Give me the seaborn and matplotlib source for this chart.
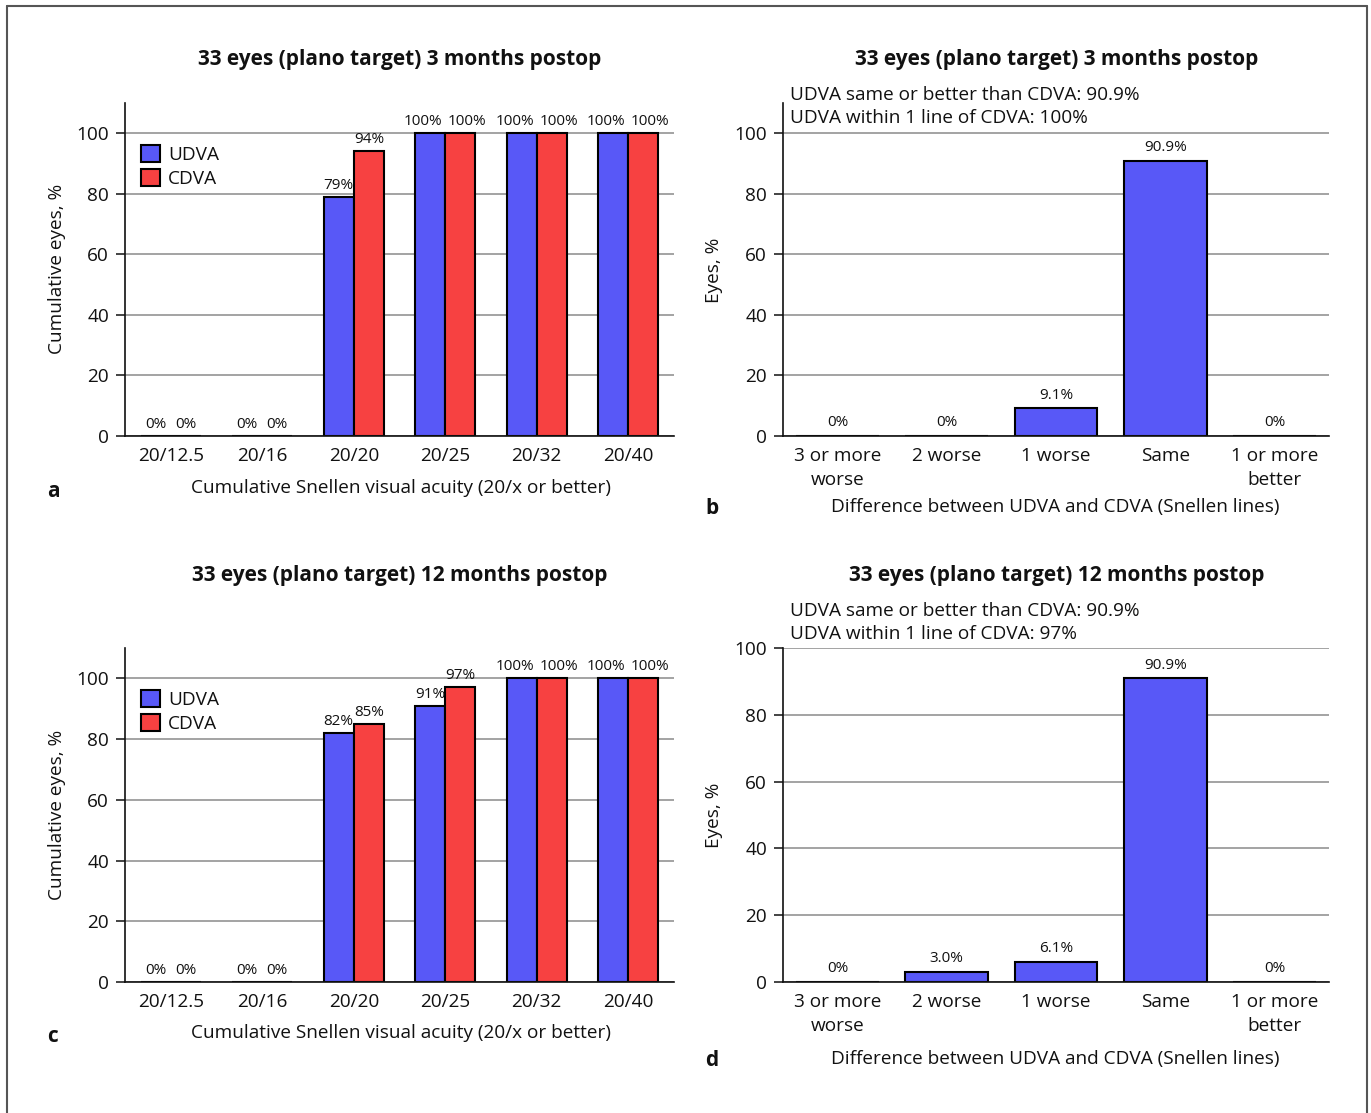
import numpy as np
import pandas as pd
import matplotlib
matplotlib.use("Agg")
import matplotlib.pyplot as plt
from matplotlib.lines import Line2D
import seaborn as sns

# ---- data -------------------------------------------------------------
acuity = ["20/12.5", "20/16", "20/20", "20/25", "20/32", "20/40"]
udva_3m = [0, 0, 79, 100, 100, 100]
cdva_3m = [0, 0, 94, 100, 100, 100]
udva_12m = [0, 0, 82, 91, 100, 100]
cdva_12m = [0, 0, 85, 97, 100, 100]

diff_cats = ["3 or more\nworse", "2 worse", "1 worse", "Same", "1 or more\nbetter"]
diff_3m = [0, 0, 9.1, 90.9, 0]
diff_12m = [0, 3.0, 6.1, 90.9, 0]

title_3m = "33 eyes (plano target) 3 months postop"
title_12m = "33 eyes (plano target) 12 months postop"
notes_3m = ["UDVA same or better than CDVA: 90.9%", "UDVA within 1 line of CDVA: 100%"]
notes_12m = ["UDVA same or better than CDVA: 90.9%", "UDVA within 1 line of CDVA: 97%"]

BLUE = "#5858F7"
RED = "#F74141"
GRID = "#a3a3a3"
FS = 13.7        # general text size
FS_BAR = 11      # value labels above bars

sns.set_style("white")
plt.rcParams["font.family"] = ["Open Sans", "DejaVu Sans"]
plt.rcParams["text.color"] = "#111111"
plt.rcParams["axes.labelcolor"] = "#111111"
plt.rcParams["xtick.color"] = "#111111"
plt.rcParams["ytick.color"] = "#111111"

W, H = 1371, 1113
fig = plt.figure(figsize=(W / 100, H / 100), dpi=100)


def px(x, y):
    return x / W, 1 - y / H


def add_axes(x0, x1, ytop, ybot):
    l, t = px(x0, ytop)
    r, b = px(x1, ybot)
    return fig.add_axes([l, b, r - l, t - b])


def style_axes(ax, ncat, ymax):
    ax.set_xlim(-0.5, ncat - 0.5)
    ax.set_ylim(0, ymax)
    ax.set_yticks([0, 20, 40, 60, 80, 100])
    ax.yaxis.grid(True, color=GRID, lw=1.4)
    ax.xaxis.grid(False)
    ax.set_axisbelow(True)
    for s in ["top", "right"]:
        ax.spines[s].set_visible(False)
    for s in ["left", "bottom"]:
        ax.spines[s].set_color("#111111")
        ax.spines[s].set_linewidth(1.2)
    ax.set_xticks(np.arange(-0.5, ncat, 1), minor=True)
    ax.tick_params(axis="x", which="major", length=0, pad=8, labelsize=FS)
    ax.tick_params(axis="x", which="minor", length=7, width=1.1, direction="out")
    ax.tick_params(axis="y", which="major", length=6.5, width=1.1, direction="out",
                   left=True, pad=5, labelsize=FS)
    ax.set_xlabel("")
    ax.set_ylabel("")


def cumulative_panel(ax, udva, cdva):
    df = pd.DataFrame({
        "acuity": acuity * 2,
        "pct": udva + cdva,
        "measure": ["UDVA"] * len(acuity) + ["CDVA"] * len(acuity),
    })
    sns.barplot(data=df, x="acuity", y="pct", hue="measure", order=acuity,
                hue_order=["UDVA", "CDVA"], palette=[BLUE, RED], saturation=1,
                width=0.66, edgecolor="black", linewidth=1.5, errorbar=None, ax=ax)
    # wide "100%" labels on neighbouring bars are nudged apart
    for cont, nudge in zip(ax.containers, (-5, 5)):
        texts = ax.bar_label(cont, fmt="{:.0f}%", padding=3, fontsize=FS_BAR)
        for t in texts:
            if len(t.get_text()) >= 4:
                t.xyann = (nudge, 3)
    style_axes(ax, len(acuity), 110)
    ax.legend(loc="upper left", bbox_to_anchor=(0.03, 0.875), frameon=False,
              handlelength=0.95, handleheight=1.0, handletextpad=0.45,
              labelspacing=0.28, fontsize=FS, borderaxespad=0, borderpad=0)


def difference_panel(ax, vals, ymax):
    df = pd.DataFrame({"diff": diff_cats, "pct": vals})
    sns.barplot(data=df, x="diff", y="pct", order=diff_cats, color=BLUE,
                saturation=1, width=0.76, edgecolor="black", linewidth=1.5,
                errorbar=None, ax=ax)
    labels = ["0%" if v == 0 else f"{v:.1f}%" for v in vals]
    ax.bar_label(ax.containers[0], labels=labels, padding=4, fontsize=FS_BAR)
    style_axes(ax, len(diff_cats), ymax)
    for lab in ax.get_xticklabels():
        lab.set_linespacing(1.45)
        lab.set_verticalalignment("top")


# ---- panels ----------------------------------------------------------------
ax_a = add_axes(125, 674, 103, 436)
cumulative_panel(ax_a, udva_3m, cdva_3m)

ax_b = add_axes(783, 1329, 103, 436)
difference_panel(ax_b, diff_3m, 110)

ax_c = add_axes(125, 674, 648, 982)
cumulative_panel(ax_c, udva_12m, cdva_12m)

ax_d = add_axes(783, 1329, 648, 982)
difference_panel(ax_d, diff_12m, 100)

# ---- titles, notes, axis titles, panel letters ----------------------------
def ftext(x, y, s, **kw):
    fx, fy = px(x, y)
    fig.text(fx, fy, s, **kw)

FS_T = 15
ftext(400, 60, title_3m, ha="center", va="center", fontsize=FS_T, fontweight="bold")
ftext(1057, 60, title_3m, ha="center", va="center", fontsize=FS_T, fontweight="bold")
ftext(400, 575, title_12m, ha="center", va="center", fontsize=FS_T, fontweight="bold")
ftext(1057, 575, title_12m, ha="center", va="center", fontsize=FS_T, fontweight="bold")

ftext(790, 95, notes_3m[0], ha="left", va="center", fontsize=FS)
ftext(790, 118, notes_3m[1], ha="left", va="center", fontsize=FS)
ftext(790, 611, notes_12m[0], ha="left", va="center", fontsize=FS)
ftext(790, 634, notes_12m[1], ha="left", va="center", fontsize=FS)

xl_cum = "Cumulative Snellen visual acuity (20/x or better)"
xl_diff = "Difference between UDVA and CDVA (Snellen lines)"
ftext(401, 488, xl_cum, ha="center", va="center", fontsize=FS)
ftext(401, 1033, xl_cum, ha="center", va="center", fontsize=FS)
ftext(1055, 507, xl_diff, ha="center", va="center", fontsize=FS)
ftext(1055, 1059, xl_diff, ha="center", va="center", fontsize=FS)

ftext(57, 269, "Cumulative eyes, %", ha="center", va="center", rotation=90, fontsize=FS)
ftext(57, 815, "Cumulative eyes, %", ha="center", va="center", rotation=90, fontsize=FS)
ftext(714, 270, "Eyes, %", ha="center", va="center", rotation=90, fontsize=FS)
ftext(714, 815, "Eyes, %", ha="center", va="center", rotation=90, fontsize=FS)

FS_L = 15
ftext(53, 492, "a", ha="center", va="center", fontsize=FS_L, fontweight="bold")
ftext(712, 508, "b", ha="center", va="center", fontsize=FS_L, fontweight="bold")
ftext(53, 1037, "c", ha="center", va="center", fontsize=FS_L, fontweight="bold")
ftext(712, 1060, "d", ha="center", va="center", fontsize=FS_L, fontweight="bold")

# ---- frame around the figure (open at the bottom) -------------------------
frame_kw = dict(color="#555555", lw=1.5, transform=fig.transFigure)
x0, y0 = px(7, 6)
x1, _ = px(1367, 6)
_, yb = px(7, 1113)
fig.add_artist(Line2D([x0, x0], [yb, y0], **frame_kw))
fig.add_artist(Line2D([x0, x1], [y0, y0], **frame_kw))
fig.add_artist(Line2D([x1, x1], [y0, yb], **frame_kw))

fig.savefig("out.png", dpi=100, facecolor="white")
